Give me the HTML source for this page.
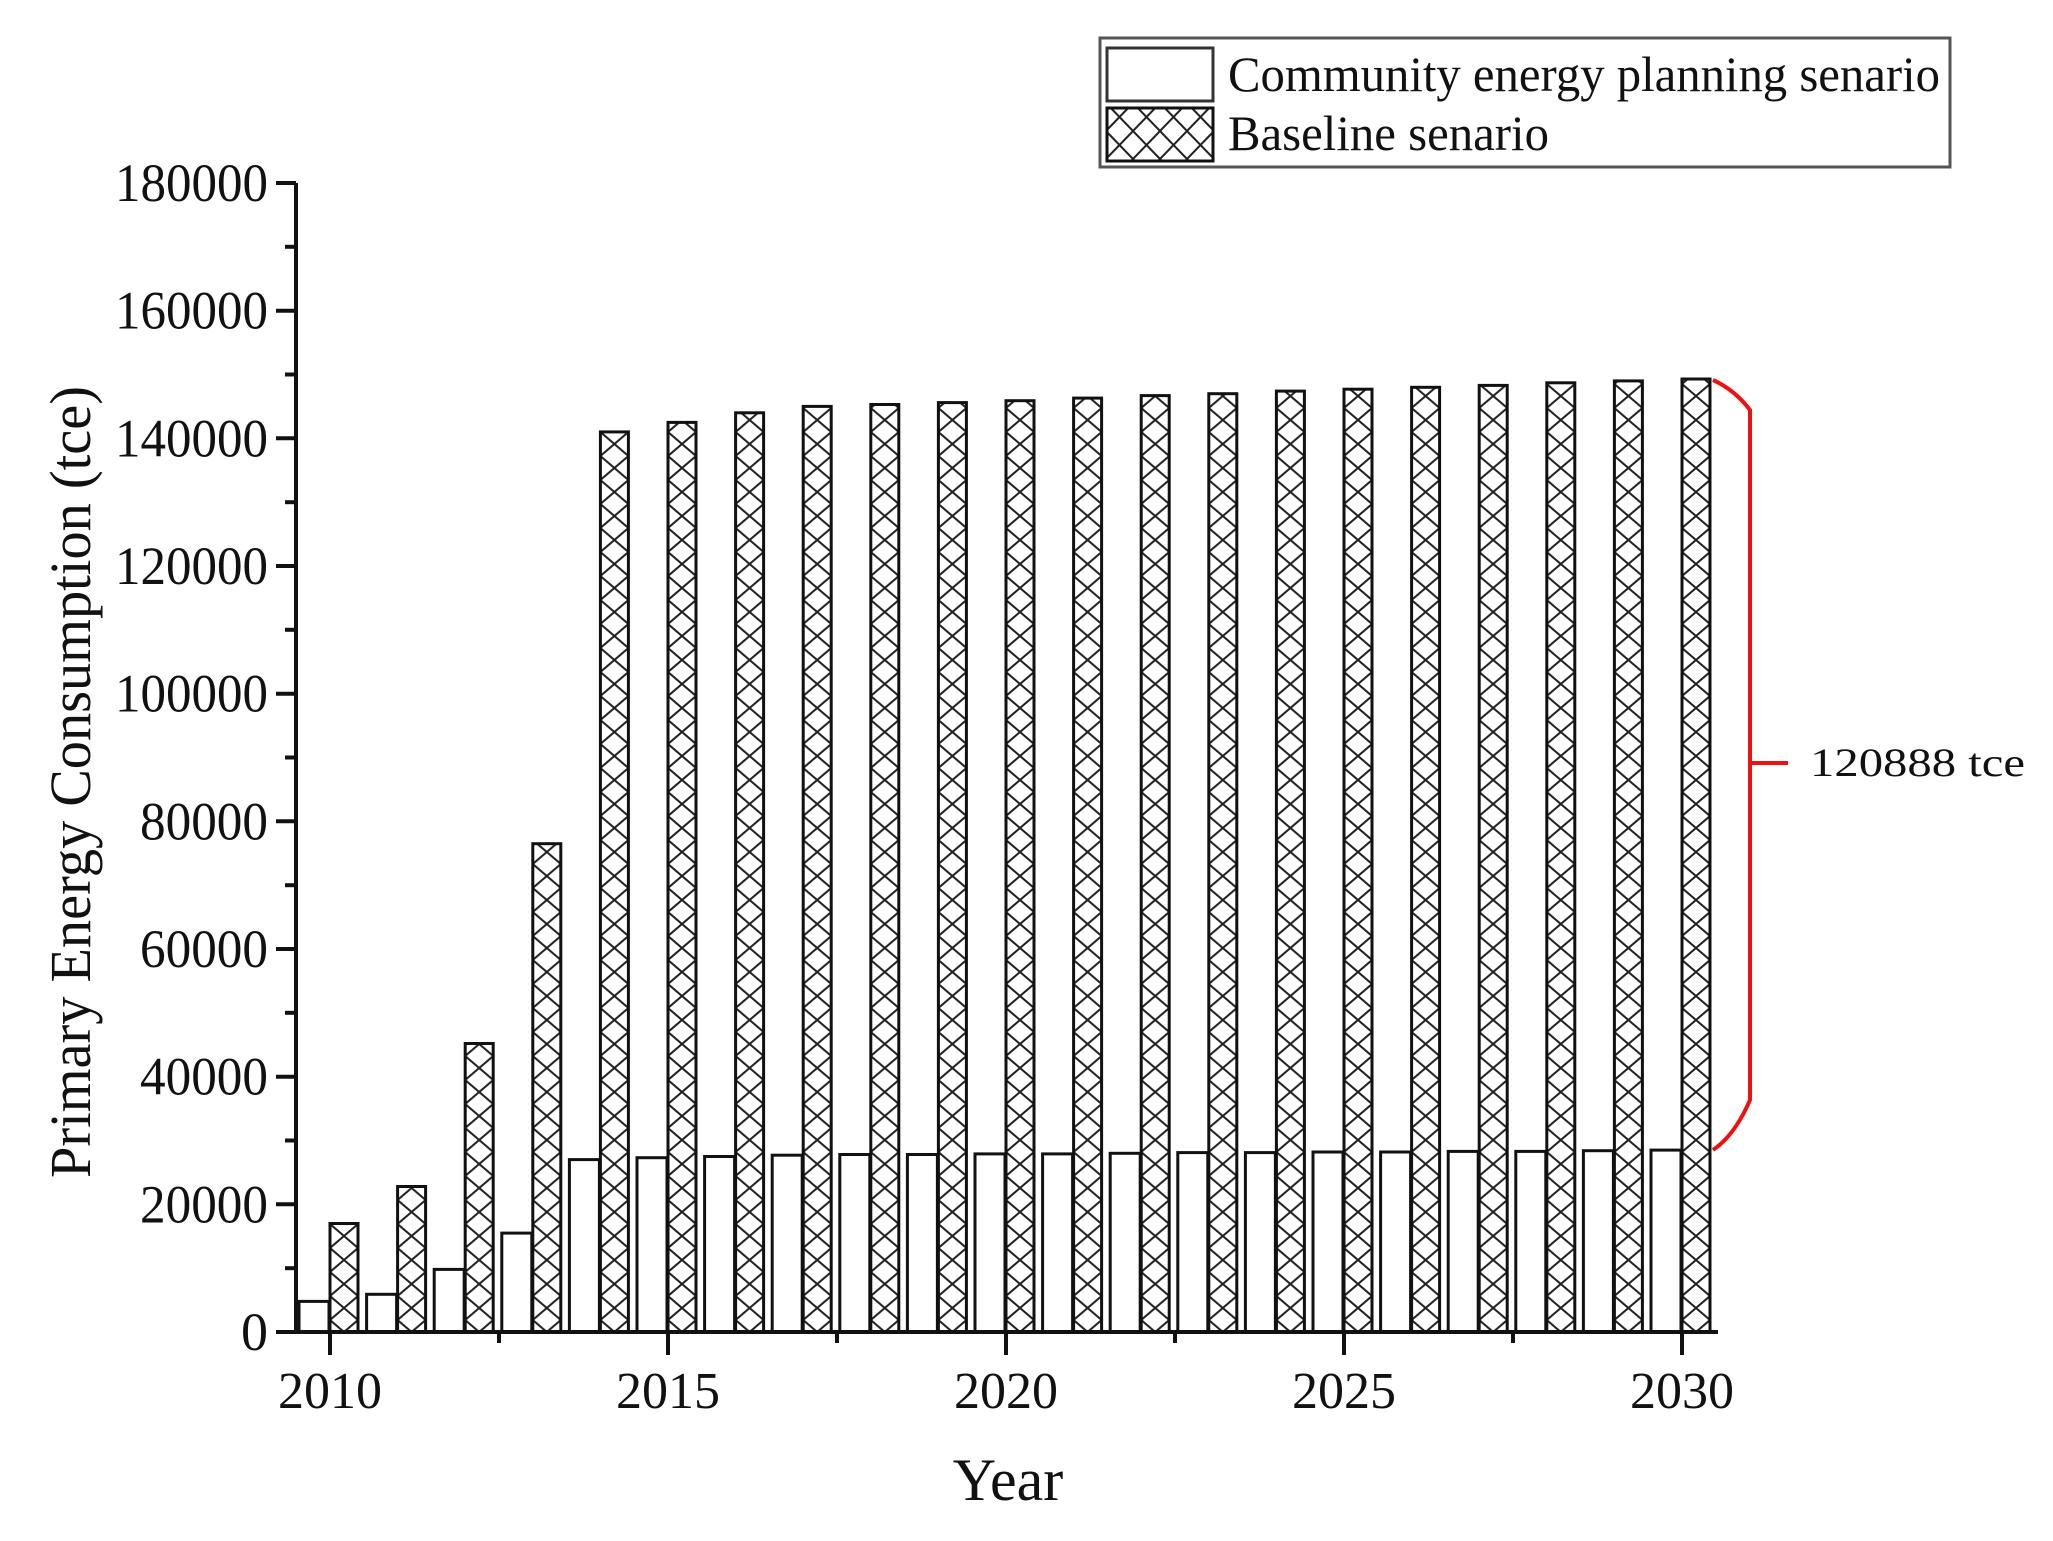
<!DOCTYPE html>
<html><head><meta charset="utf-8"><style>html,body{margin:0;padding:0;background:#fff}svg{display:block}</style></head>
<body>
<svg width="2053" height="1541" viewBox="0 0 2053 1541" xmlns="http://www.w3.org/2000/svg" font-family="Liberation Serif, serif">
<defs>
<pattern id="h" patternUnits="userSpaceOnUse" x="0" y="0" width="28" height="24">
<path d="M0,0 L28,24 M28,0 L0,24" stroke="#222" stroke-width="2" fill="none"/>
</pattern>
<pattern id="hl" patternUnits="userSpaceOnUse" x="1106" y="47" width="27" height="28">
<path d="M0,0 L27,28 M27,0 L0,28" stroke="#222" stroke-width="2" fill="none"/>
</pattern>
</defs>
<g stroke="#111" stroke-width="3">
<g transform="translate(330,0)"><rect x="-31" y="1301.4" width="30" height="30.6" fill="#fff"/><rect x="0" y="1223.5" width="28" height="108.5" fill="url(#h)"/></g>
<g transform="translate(397.6,0)"><rect x="-31" y="1294.3" width="30" height="37.7" fill="#fff"/><rect x="0" y="1186.5" width="28" height="145.5" fill="url(#h)"/></g>
<g transform="translate(465.2,0)"><rect x="-31" y="1269.4" width="30" height="62.6" fill="#fff"/><rect x="0" y="1043.5" width="28" height="288.5" fill="url(#h)"/></g>
<g transform="translate(532.8,0)"><rect x="-31" y="1233.1" width="30" height="98.9" fill="#fff"/><rect x="0" y="843.7" width="28" height="488.3" fill="url(#h)"/></g>
<g transform="translate(600.4,0)"><rect x="-31" y="1159.6" width="30" height="172.4" fill="#fff"/><rect x="0" y="431.9" width="28" height="900.1" fill="url(#h)"/></g>
<g transform="translate(668,0)"><rect x="-31" y="1157.7" width="30" height="174.3" fill="#fff"/><rect x="0" y="422.4" width="28" height="909.6" fill="url(#h)"/></g>
<g transform="translate(735.6,0)"><rect x="-31" y="1156.5" width="30" height="175.5" fill="#fff"/><rect x="0" y="412.8" width="28" height="919.2" fill="url(#h)"/></g>
<g transform="translate(803.2,0)"><rect x="-31" y="1155.2" width="30" height="176.8" fill="#fff"/><rect x="0" y="406.4" width="28" height="925.6" fill="url(#h)"/></g>
<g transform="translate(870.8,0)"><rect x="-31" y="1154.5" width="30" height="177.5" fill="#fff"/><rect x="0" y="404.5" width="28" height="927.5" fill="url(#h)"/></g>
<g transform="translate(938.4,0)"><rect x="-31" y="1154.5" width="30" height="177.5" fill="#fff"/><rect x="0" y="402.6" width="28" height="929.4" fill="url(#h)"/></g>
<g transform="translate(1006,0)"><rect x="-31" y="1153.9" width="30" height="178.1" fill="#fff"/><rect x="0" y="400.7" width="28" height="931.3" fill="url(#h)"/></g>
<g transform="translate(1073.6,0)"><rect x="-31" y="1153.9" width="30" height="178.1" fill="#fff"/><rect x="0" y="398.1" width="28" height="933.9" fill="url(#h)"/></g>
<g transform="translate(1141.2,0)"><rect x="-31" y="1153.3" width="30" height="178.7" fill="#fff"/><rect x="0" y="395.6" width="28" height="936.4" fill="url(#h)"/></g>
<g transform="translate(1208.8,0)"><rect x="-31" y="1152.6" width="30" height="179.4" fill="#fff"/><rect x="0" y="393.7" width="28" height="938.3" fill="url(#h)"/></g>
<g transform="translate(1276.4,0)"><rect x="-31" y="1152.6" width="30" height="179.4" fill="#fff"/><rect x="0" y="391.1" width="28" height="940.9" fill="url(#h)"/></g>
<g transform="translate(1344,0)"><rect x="-31" y="1152" width="30" height="180" fill="#fff"/><rect x="0" y="389.2" width="28" height="942.8" fill="url(#h)"/></g>
<g transform="translate(1411.6,0)"><rect x="-31" y="1152" width="30" height="180" fill="#fff"/><rect x="0" y="387.3" width="28" height="944.7" fill="url(#h)"/></g>
<g transform="translate(1479.2,0)"><rect x="-31" y="1151.4" width="30" height="180.6" fill="#fff"/><rect x="0" y="385.4" width="28" height="946.6" fill="url(#h)"/></g>
<g transform="translate(1546.8,0)"><rect x="-31" y="1151.4" width="30" height="180.6" fill="#fff"/><rect x="0" y="382.8" width="28" height="949.2" fill="url(#h)"/></g>
<g transform="translate(1614.4,0)"><rect x="-31" y="1150.7" width="30" height="181.3" fill="#fff"/><rect x="0" y="380.9" width="28" height="951.1" fill="url(#h)"/></g>
<g transform="translate(1682,0)"><rect x="-31" y="1150.1" width="30" height="181.9" fill="#fff"/><rect x="0" y="379" width="28" height="953" fill="url(#h)"/></g>
</g>
<g stroke="#111" stroke-width="4">
<line x1="296" y1="183" x2="296" y2="1333"/>
<line x1="294" y1="1332" x2="1718" y2="1332"/>
<line x1="276" y1="1332" x2="296" y2="1332"/><line x1="285" y1="1268.2" x2="296" y2="1268.2"/>
<line x1="276" y1="1204.3" x2="296" y2="1204.3"/><line x1="285" y1="1140.5" x2="296" y2="1140.5"/>
<line x1="276" y1="1076.7" x2="296" y2="1076.7"/><line x1="285" y1="1012.8" x2="296" y2="1012.8"/>
<line x1="276" y1="949" x2="296" y2="949"/><line x1="285" y1="885.2" x2="296" y2="885.2"/>
<line x1="276" y1="821.3" x2="296" y2="821.3"/><line x1="285" y1="757.5" x2="296" y2="757.5"/>
<line x1="276" y1="693.7" x2="296" y2="693.7"/><line x1="285" y1="629.8" x2="296" y2="629.8"/>
<line x1="276" y1="566" x2="296" y2="566"/><line x1="285" y1="502.2" x2="296" y2="502.2"/>
<line x1="276" y1="438.3" x2="296" y2="438.3"/><line x1="285" y1="374.5" x2="296" y2="374.5"/>
<line x1="276" y1="310.7" x2="296" y2="310.7"/><line x1="285" y1="246.8" x2="296" y2="246.8"/>
<line x1="276" y1="183" x2="296" y2="183"/>
<line x1="330" y1="1332" x2="330" y2="1355"/><line x1="499" y1="1332" x2="499" y2="1343"/>
<line x1="668" y1="1332" x2="668" y2="1355"/><line x1="837" y1="1332" x2="837" y2="1343"/>
<line x1="1006" y1="1332" x2="1006" y2="1355"/><line x1="1175" y1="1332" x2="1175" y2="1343"/>
<line x1="1344" y1="1332" x2="1344" y2="1355"/><line x1="1513" y1="1332" x2="1513" y2="1343"/>
<line x1="1682" y1="1332" x2="1682" y2="1355"/>
</g>
<g font-size="54" fill="#111" text-anchor="end">
<text x="268" y="1350">0</text>
<text x="268" y="1222.3" textLength="128" lengthAdjust="spacingAndGlyphs">20000</text>
<text x="268" y="1094.7" textLength="128" lengthAdjust="spacingAndGlyphs">40000</text>
<text x="268" y="967" textLength="128" lengthAdjust="spacingAndGlyphs">60000</text>
<text x="268" y="839.3" textLength="128" lengthAdjust="spacingAndGlyphs">80000</text>
<text x="268" y="711.7" textLength="153" lengthAdjust="spacingAndGlyphs">100000</text>
<text x="268" y="584" textLength="153" lengthAdjust="spacingAndGlyphs">120000</text>
<text x="268" y="456.3" textLength="153" lengthAdjust="spacingAndGlyphs">140000</text>
<text x="268" y="328.7" textLength="153" lengthAdjust="spacingAndGlyphs">160000</text>
<text x="268" y="201" textLength="153" lengthAdjust="spacingAndGlyphs">180000</text>
</g>
<g font-size="52" fill="#111" text-anchor="middle">
<text x="330" y="1408">2010</text>
<text x="668" y="1408">2015</text>
<text x="1006" y="1408">2020</text>
<text x="1344" y="1408">2025</text>
<text x="1682" y="1408">2030</text>
</g>
<text x="1008" y="1500" font-size="60" text-anchor="middle" fill="#111">Year</text>
<text transform="translate(90,782) rotate(-90)" font-size="58" text-anchor="middle" fill="#111" textLength="792" lengthAdjust="spacingAndGlyphs">Primary Energy Consumption (tce)</text>
<rect x="1100" y="38" width="850" height="129" fill="#fff" stroke="#555" stroke-width="3"/>
<rect x="1107" y="48" width="106" height="53" fill="#fff" stroke="#333" stroke-width="3"/>
<rect x="1107" y="108" width="106" height="53" fill="url(#hl)" stroke="#111" stroke-width="3"/>
<text x="1228" y="91" font-size="50" fill="#111" textLength="712" lengthAdjust="spacingAndGlyphs">Community energy planning senario</text>
<text x="1228" y="150" font-size="50" fill="#111" textLength="321" lengthAdjust="spacingAndGlyphs">Baseline senario</text>
<path d="M1713,380 Q1735,390 1750,410 L1750,1100 Q1735,1135 1713,1150 M1750,763 L1788,763" stroke="#ee1111" stroke-width="4" fill="none"/>
<text x="1810" y="776" font-size="40" fill="#111" textLength="215" lengthAdjust="spacingAndGlyphs">120888 tce</text>
</svg>
</body></html>
